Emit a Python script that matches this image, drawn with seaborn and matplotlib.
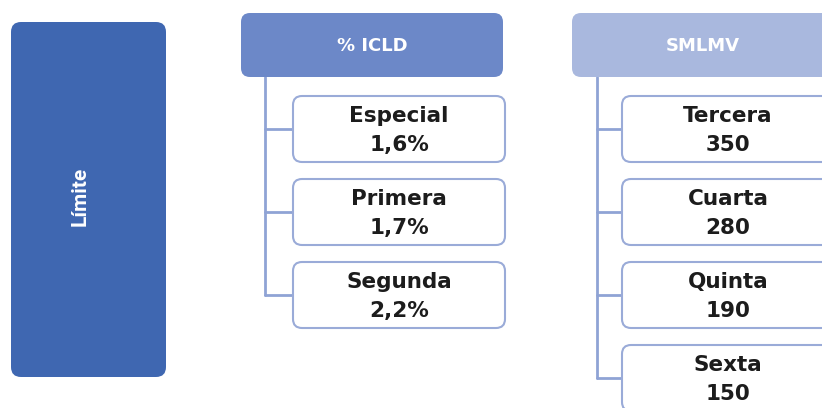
import matplotlib
matplotlib.use("Agg")
import matplotlib.pyplot as plt
from matplotlib.patches import FancyBboxPatch
import seaborn as sns
import pandas as pd

# ---- data ----
root_label = "Límite"
group_titles = ["% ICLD", "SMLMV"]
icld_categories = ["Especial", "Primera", "Segunda"]
icld_values = ["1,6%", "1,7%", "2,2%"]
smlmv_categories = ["Tercera", "Cuarta", "Quinta", "Sexta"]
smlmv_values = [350, 280, 190, 150]

sns.set_theme(style="white")
plt.rcParams['font.family'] = ['DejaVu Sans']

W, H = 822, 408
fig = plt.figure(figsize=(W / 100, H / 100), dpi=100)
ax = fig.add_axes([0, 0, 1, 1])
ax.set_xlim(0, W)
ax.set_ylim(H, 0)
ax.axis("off")

root_color = "#3F67B1"
head_colors = ["#6C88C8", "#A9B8DE"]
line_color = "#8FA3D5"
edge_color = "#9AABD8"


def rbox(x0, y0, w, h, fc, ec, lw=0.0, r=8):
    p = FancyBboxPatch((x0, y0), w, h,
                       boxstyle=f"round,pad=0,rounding_size={r}",
                       fc=fc, ec=ec, lw=lw, mutation_aspect=1, zorder=3)
    ax.add_patch(p)


# root box
rbox(11, 22, 155, 355, root_color, root_color, r=10)
ax.text(80, 196, root_label, rotation=90, color="white", ha="center",
        va="center", fontsize=15, fontweight="bold",
        family=["Roboto", "DejaVu Sans"], zorder=4)

# groups
groups = [
    (icld_categories, icld_values),
    (smlmv_categories, [str(v) for v in smlmv_values]),
]
head_x = [241, 572]
head_w = [262, 262]
trunk_x = [265, 597]
child_x = [293, 622]
child_w = [212, 212]
head_top, head_h = 13, 64
first_top, pitch, box_h = 96, 83, 66

for g, (cats, vals) in enumerate(groups):
    rbox(head_x[g], head_top, head_w[g], head_h, head_colors[g],
         head_colors[g], r=9)
    ax.text(head_x[g] + head_w[g] / 2, head_top + head_h / 2 + 1,
            group_titles[g], color="white", fontsize=13, fontweight="bold",
            ha="center", va="center", zorder=4)
    n = len(cats)
    ys = [first_top + i * pitch + box_h / 2 for i in range(n)]
    # trunk line
    trunk = pd.DataFrame({"x": [trunk_x[g], trunk_x[g]],
                          "y": [head_top + head_h, ys[-1]]})
    sns.lineplot(data=trunk, x="x", y="y", ax=ax, color=line_color,
                 lw=2, estimator=None, sort=False, zorder=2)
    for i, (c, v) in enumerate(zip(cats, vals)):
        top = first_top + i * pitch
        br = pd.DataFrame({"x": [trunk_x[g], child_x[g]],
                           "y": [ys[i], ys[i]]})
        sns.lineplot(data=br, x="x", y="y", ax=ax, color=line_color,
                     lw=2, estimator=None, sort=False, zorder=2)
        rbox(child_x[g], top, child_w[g], box_h, "white", edge_color,
             lw=1.5, r=9)
        cx = child_x[g] + child_w[g] / 2
        ax.text(cx, top + 20, c, color="#1C1C1C", fontsize=15.5,
                fontweight="bold", ha="center", va="center", zorder=4)
        ax.text(cx, top + 49, v, color="#1C1C1C", fontsize=15.5,
                fontweight="bold", ha="center", va="center", zorder=4)

ax.set_xlim(0, W)
ax.set_ylim(H, 0)
ax.set_xlabel("")
ax.set_ylabel("")
fig.savefig("out.png", dpi=100, facecolor="white")
